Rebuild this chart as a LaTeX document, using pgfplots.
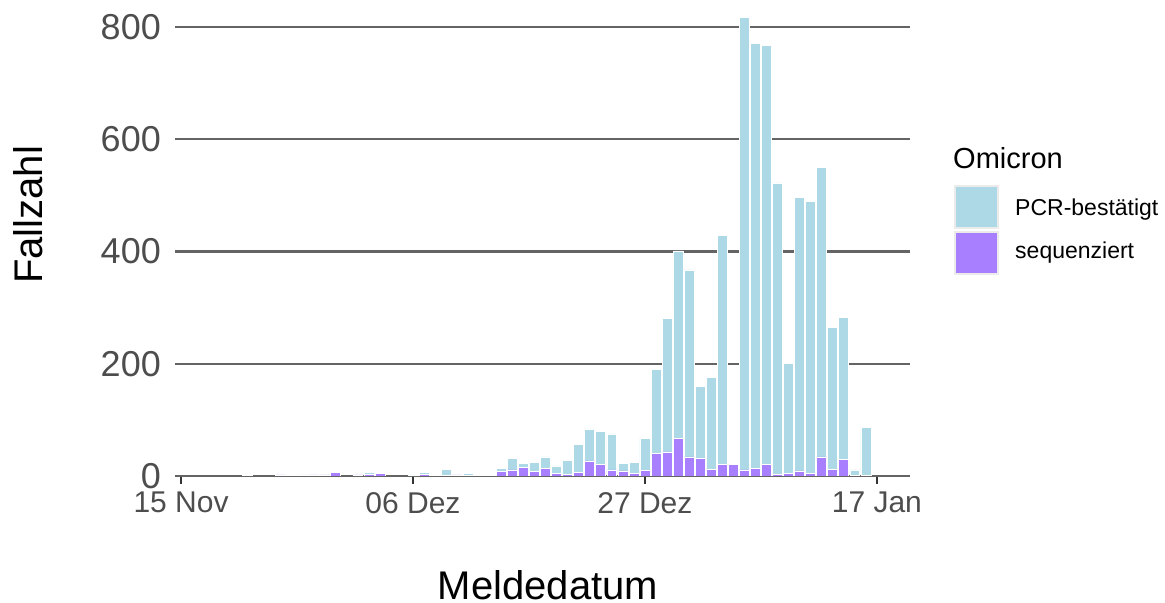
\documentclass[border=0pt]{standalone}
\usepackage{pgfplots}
\pgfplotsset{compat=1.18}
\usepackage{pgfplotstable}
\usepackage{fontspec}
\setmainfont{Liberation Sans}

\definecolor{pcrblue}{RGB}{173,216,230}
\definecolor{seqpurple}{RGB}{168,128,255}
\definecolor{gridgray}{RGB}{100,100,100}
\definecolor{labgray}{RGB}{77,77,77}
\definecolor{keyframe}{RGB}{235,235,235}

% day 0 = 15 Nov; seq = sequenziert, pcr = PCR-bestaetigt (on top)
\pgfplotstableread{
day seq pcr
0 0 0
1 0 0
2 0 0
3 0 0
4 0 0
5 0 0
6 1 0
7 0 0
8 0 0
9 2 0
10 0 1
11 1 1
12 2 0
13 2 0
14 7 0
15 0 0
16 2 0
17 3 4
18 4 0
19 0 0
20 0 0
21 0 2
22 3 4
23 1 2
24 1 11
25 2 0
26 1 3
27 0 1.5
28 1 0
29 8 6
30 11 20.5
31 16 6.6
32 8 16
33 14 20
34 5 13
35 3.5 25
36 7 49
37 27 57
38 20 60
39 11 64
40 9 14
41 5 19
42 10 57
43 40 150
44 43 238
45 67 334
46 34 333
47 32 128
48 12 163
49 21 408
50 21 0
51 11 806
52 14 757
53 21 746
54 3 519
55 5 196
56 9 488
57 4 485
58 34 516
59 12 253
60 30 253
61 1 10
62 1 86
}\omicron

\begin{document}
\begin{tikzpicture}
\useasboundingbox (0,0) rectangle (1165bp,603bp);
\begin{axis}[
  at={(175bp,127bp)}, anchor=south west,
  scale only axis, width=735bp, height=476bp,
  ybar stacked, bar width=0.9,
  xmin=-0.55, xmax=66, ymin=0, ymax=848,
  axis x line*=bottom, axis y line*=left,
  x axis line style={draw=gridgray, line width=2bp},
  y axis line style={draw=none},
  xtick={0,21,42,63},
  xticklabels={15 Nov, 06 Dez, 27 Dez, 17 Jan},
  ytick={0,200,400,600,800},
  tick align=outside, major tick length=8bp,
  xtick style={draw=black!80, line width=2bp},
  ytick style={draw=none},
  ymajorgrids, major grid style={draw=gridgray, line width=2.4bp},
  /pgf/number format/assume math mode=true,
  xticklabel style={font=\fontsize{30bp}{34bp}\selectfont, text=labgray, inner sep=0pt, anchor=north, yshift=-8bp},
  yticklabel style={font=\fontsize{36bp}{40bp}\selectfont, text=labgray, inner sep=0pt, anchor=east, xshift=-6bp},
  every axis plot/.append style={draw=white, line width=0.6bp},
]
\addplot[fill=seqpurple] table[x=day, y=seq] {\omicron};
\addplot[fill=pcrblue] table[x=day, y=pcr] {\omicron};
\end{axis}
% axis titles
\node[font=\fontsize{40bp}{44bp}\selectfont, anchor=base, inner sep=0pt] at (548bp,4bp) {Meldedatum};
\node[font=\fontsize{40bp}{44bp}\selectfont, rotate=90, inner sep=0pt] at (28bp,388bp) {Fallzahl};
% legend
\node[font=\fontsize{29bp}{32bp}\selectfont, anchor=west, inner sep=0pt] at (953bp,445bp) {Omicron};
\fill[pcrblue, draw=keyframe, line width=2bp] (955bp,375bp) rectangle (998bp,417bp);
\fill[seqpurple, draw=keyframe, line width=2bp] (955bp,329bp) rectangle (998bp,371bp);
\node[font=\fontsize{23bp}{26bp}\selectfont, anchor=west, inner sep=0pt] at (1015bp,393bp) {PCR-bestätigt};
\node[font=\fontsize{23bp}{26bp}\selectfont, anchor=west, inner sep=0pt] at (1015bp,350bp) {sequenziert};
\end{tikzpicture}
\end{document}
